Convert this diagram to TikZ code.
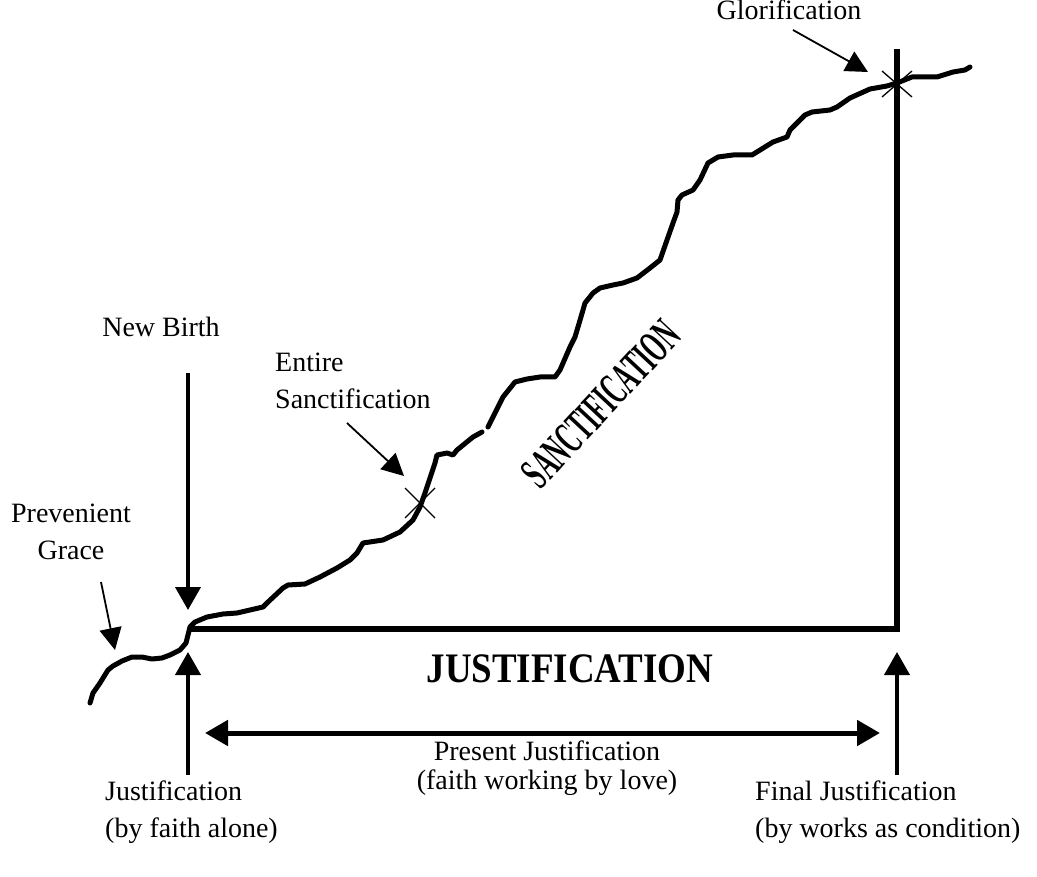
\documentclass[tikz,border=0pt]{standalone}
\usepackage{fontspec}
\setmainfont{Liberation Serif}
\usetikzlibrary{arrows.meta}

\begin{document}
\begin{tikzpicture}[x=1pt,y=-1pt]
      \useasboundingbox(0,0) rectangle (1037,877);
      \tikzset{L/.style = {inner sep=0pt, font=\fontsize{28}{37}\selectfont}}
      \tikzset{A/.style = {draw, line width=4pt, -{Triangle[length=23pt,width=25pt]}}}
      \tikzset{T/.style = {draw, line width=1.8pt, -{Triangle[length=22pt,width=22pt]}}}
      \tikzset{X/.style = {draw, line width=1.3pt}}
      \tikzset{W/.style = {draw, line width=5pt, line join=round, line cap=round}}
      % labels
      \node[L,anchor=base](glor) at (789,20) {Glorification};
      \node[L,anchor=base](nb) at (161,337) {New Birth};
      \node[L,anchor=north west,align=left](ent) at (275,353) {Entire\\Sanctification};
      \node[L,anchor=north,align=center](prev) at (71,504) {Prevenient\\Grace};
      \node[L,anchor=base](just) at (570,682) {\scalebox{0.88}[1]{\fontsize{42}{42}\selectfont\bfseries JUSTIFICATION}};
      \node[L,rotate=47](sanct) at (601,404) {\scalebox{0.52}[1]{\fontsize{46}{46}\selectfont\bfseries SANCTIFICATION}};
      \node[L,anchor=north,align=center,font=\fontsize{28}{29}\selectfont](pres) at (547,741) {Present Justification\\(faith working by love)};
      \node[L,anchor=north west,align=left](jfa) at (105,781) {Justification\\(by faith alone)};
      \node[L,anchor=north west,align=left](fin) at (755,781) {Final Justification\\(by works as condition)};
      % arrow ends
      \coordinate(nb1) at (188,373);
      \coordinate(nb2) at (188,610);
      \coordinate(jf1) at (188,775);
      \coordinate(jf2) at (188,652);
      \coordinate(fj1) at (897,775);
      \coordinate(fj2) at (897,652);
      \coordinate(pj1) at (205,733);
      \coordinate(pj2) at (880,733);
      \coordinate(pg1) at (101,582);
      \coordinate(pg2) at (115,650);
      \coordinate(es1) at (347,423);
      \coordinate(es2) at (404,476);
      \coordinate(gl1) at (793,30);
      \coordinate(gl2) at (868,72);
      \coordinate(esx) at (420,503);
      \coordinate(glx) at (897,83);
      % frame
      \draw[line width=6pt] (190,629) -- (897,629) -- (897,49);
      % path of the life
      \draw[W] (90,703) -- (93,693) -- (100,683) -- (108,670) -- (113,666) -- (122,661) -- (132,657)
        -- (142,657) -- (152,659) -- (162,658) -- (170,655) -- (180,650) -- (186,643) -- (188,635)
        -- (190,627) -- (195,622) -- (207,617) -- (223,614) -- (237,613) -- (263,607) -- (268,602)
        -- (283,588) -- (288,585) -- (305,584) -- (320,577) -- (337,568) -- (350,560) -- (357,553)
        -- (363,543) -- (383,540) -- (400,532) -- (413,520) -- (420,507) -- (425,493) -- (430,478)
        -- (435,463) -- (437,455) -- (447,453) -- (453,455) -- (457,450) -- (473,437) -- (482,432);
      \draw[W] (488,427) -- (493,417) -- (500,403) -- (503,397) -- (515,382) -- (527,379) -- (540,377)
        -- (555,377) -- (560,370) -- (570,347) -- (575,337) -- (578,327) -- (583,310) -- (585,303)
        -- (593,293) -- (600,288) -- (613,285) -- (623,283) -- (637,278) -- (650,268) -- (660,260)
        -- (667,240) -- (673,223) -- (677,212) -- (678,200) -- (682,195) -- (693,190) -- (700,180)
        -- (708,163) -- (718,157) -- (733,155) -- (752,155) -- (773,142) -- (787,137) -- (790,130)
        -- (805,115) -- (812,112) -- (830,110) -- (837,107) -- (850,98) -- (870,89) -- (887,86)
        -- (897,83) -- (912,77) -- (937,77) -- (953,72) -- (965,70) -- (970,67);
      % marks
      \draw[X] ([shift={(-15,-15)}]esx) -- ([shift={(15,15)}]esx);
      \draw[X] ([shift={(-15,15)}]esx) -- ([shift={(15,-15)}]esx);
      \draw[X] ([shift={(-15,-12)}]glx) -- ([shift={(15,14)}]glx);
      \draw[X] ([shift={(-15,14)}]glx) -- ([shift={(15,-12)}]glx);
      % arrows
      \draw[A](nb1) to (nb2);
      \draw[A](jf1) to (jf2);
      \draw[A](fj1) to (fj2);
      \draw[A,line width=5pt,{Triangle[length=23pt,width=25pt]}-{Triangle[length=23pt,width=25pt]}](pj1) to (pj2);
      \draw[T](pg1) to (pg2);
      \draw[T](es1) to (es2);
      \draw[T](gl1) to (gl2);
\end{tikzpicture}
\end{document}
